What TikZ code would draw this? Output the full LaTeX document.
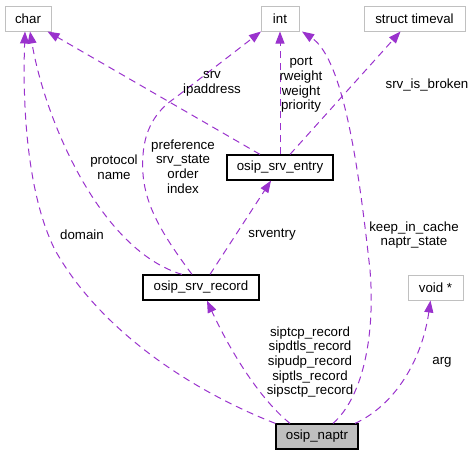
\documentclass[tikz,border=0pt]{standalone}
\usepackage{fontspec}
\setmainfont{Liberation Sans}
\usepackage{tikz}
\usetikzlibrary{arrows.meta,positioning}
\definecolor{memberpurple}{HTML}{9A32CD}
\definecolor{extgray}{HTML}{C0C0C0}
\definecolor{naptrfill}{HTML}{BFBFBF}

\begin{document}
\begin{tikzpicture}[x=1pt, y=-1pt, >={Triangle[length=12pt,width=9pt]},
        every node/.style={font=\fontsize{13.3pt}{14.7pt}\selectfont},
        extbox/.style={draw=extgray, line width=1pt, minimum height=25pt, inner sep=0pt},
        structbox/.style={draw=black, line width=1.2pt, minimum height=25pt, inner sep=0pt},
        member/.style={->, draw=memberpurple, line width=1pt, dash pattern=on 7pt off 5pt},
        lbl/.style={align=center, inner sep=0pt}]
        \useasboundingbox (0,0) rectangle (473,456);

        % Top row: external types
        \node[extbox, minimum width=46pt] (char) at (28,18.5) {char};
        \node[extbox, minimum width=38pt] (int) at (280,18.5) {int};
        \node[extbox, minimum width=101pt] (timeval) at (414.5,18.5) {struct timeval};

        % Structs
        \node[structbox, minimum width=106pt] (srventry) at (280,167.5) {osip\_srv\_entry};
        \node[structbox, minimum width=116pt] (srvrecord) at (201,287.5) {osip\_srv\_record};
        \node[extbox, minimum width=55pt] (voidp) at (435.5,287.5) {void *};
        \node[structbox, fill=naptrfill, minimum width=82pt] (naptr) at (317,436.5) {osip\_naptr};

        % Members pointing to char
        \draw[member] (naptr.north west) .. controls (190,390) and (100,330) .. (55,250)
                .. controls (30,200) and (22,120) .. ([xshift=-3pt]char.south);
        \draw[member] ([xshift=-19pt]srvrecord.north) .. controls (100,250) and (45,120) .. ([xshift=2pt]char.south);
        \draw[member] ([xshift=-20pt]srventry.north) -- ([xshift=-4pt]char.south east);

        % Members pointing to int
        \draw[member] ([xshift=-9pt]srvrecord.north) .. controls (155,225) and (140,195) .. (143,155)
                .. controls (145,125) and (160,108) .. (175,98) -- ([xshift=-19pt]int.south);
        \draw[member] (srventry.north) -- (int.south);
        \draw[member] ([xshift=16pt]naptr.north) .. controls (365,395) and (375,330) .. (370,270)
                .. controls (360,180) and (345,60) .. ([xshift=22pt]int.south);

        % Other members
        \draw[member] ([xshift=10pt]srventry.north) -- ([xshift=-14pt]timeval.south);
        \draw[member] ([xshift=9pt]srvrecord.north) -- ([xshift=-9pt]srventry.south);
        \draw[member] ([xshift=-27pt]naptr.north) .. controls (255,395) and (225,340) .. ([xshift=6pt]srvrecord.south);
        \draw[member] ([xshift=38pt]naptr.north) .. controls (395,405) and (422,360) .. ([xshift=-5pt]voidp.south);

        % Edge labels
        \node[lbl] (lbldomain) at (82,235) {domain};
        \node[lbl] (lblprotocol) at (114,167) {protocol\\name};
        \node[lbl] (lblsrv) at (212,84) {srv\\ipaddress};
        \node[lbl] (lblpref) at (183,166.5) {preference\\srv\_state\\order\\index};
        \node[lbl] (lblport) at (301,85) {port\\rweight\\weight\\priority};
        \node[lbl] (lblbroken) at (427,85) {srv\_is\_broken};
        \node[lbl] (lblsrventry) at (272,235) {srventry};
        \node[lbl] (lblkeep) at (414,235) {keep\_in\_cache\\naptr\_state};
        \node[lbl] (lblrecords) at (310,362) {siptcp\_record\\sipdtls\_record\\sipudp\_record\\siptls\_record\\sipsctp\_record};
        \node[lbl] (lblarg) at (442,362) {arg};
\end{tikzpicture}
\end{document}
